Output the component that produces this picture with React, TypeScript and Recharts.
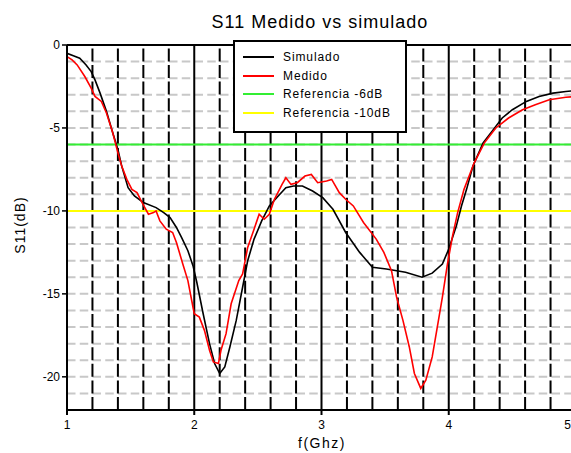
import React from "react";
import {
  LineChart,
  Line,
  XAxis,
  YAxis,
  ReferenceLine,
} from "recharts";

// S11 simulado (f en GHz, dB)
const simFreq = [
  1.0, 1.05, 1.1, 1.15, 1.19, 1.22, 1.26, 1.31, 1.36, 1.4, 1.43, 1.48, 1.53, 1.6, 1.7,
  1.76, 1.81, 1.86, 1.9, 1.95, 1.99, 2.02, 2.07, 2.12, 2.16, 2.2, 2.24, 2.28, 2.33, 2.38,
  2.42, 2.47, 2.53, 2.59, 2.66, 2.72, 2.78, 2.85, 2.93, 3.01, 3.09, 3.19, 3.3, 3.4, 3.51,
  3.66, 3.79, 3.87, 3.95, 4.0, 4.06, 4.1, 4.14, 4.19, 4.27, 4.35, 4.42, 4.5, 4.61, 4.71,
  4.82, 4.92, 5.0,
];
const simDb = [
  -0.5, -0.65, -0.8, -1.2, -1.6, -2.1, -2.9, -4.0, -5.3, -6.3, -7.3, -8.6, -9.1, -9.5, -9.8,
  -10.1, -10.4, -11.0, -11.6, -12.4, -13.3, -14.3, -16.2, -18.0, -19.2, -19.8, -19.4, -18.2, -16.6, -14.6,
  -13.0, -11.7, -10.6, -9.7, -9.1, -8.6, -8.5, -8.5, -8.8, -9.2, -9.9, -11.3, -12.5, -13.4, -13.5,
  -13.7, -14.0, -13.75, -13.2, -12.3, -10.9, -9.7, -8.7, -7.3, -5.9, -5.1, -4.4, -3.9, -3.4, -3.1,
  -2.9, -2.8, -2.75,
];

// S11 medido
const medFreq = [
  1.0, 1.04, 1.08, 1.14, 1.19, 1.22, 1.27, 1.31, 1.36, 1.4, 1.43, 1.47, 1.51, 1.55, 1.59,
  1.64, 1.68, 1.7, 1.73, 1.78, 1.83, 1.86, 1.91, 1.95, 1.98, 2.0, 2.04, 2.08, 2.12, 2.15,
  2.19, 2.21, 2.25, 2.29, 2.35, 2.38, 2.42, 2.47, 2.51, 2.55, 2.59, 2.63, 2.69, 2.72, 2.76,
  2.81, 2.87, 2.92, 2.97, 3.04, 3.08, 3.14, 3.19, 3.25, 3.33, 3.43, 3.49, 3.55, 3.59, 3.64,
  3.69, 3.73, 3.78, 3.82, 3.87, 3.91, 3.95, 3.99, 4.03, 4.07, 4.12, 4.2, 4.28, 4.37, 4.47,
  4.58, 4.68, 4.79, 4.92, 5.0,
];
const medDb = [
  -0.7, -0.9, -1.2, -1.9, -2.6, -3.1, -3.4, -4.1, -5.3, -6.5, -7.3, -8.1, -8.7, -8.9, -9.5,
  -10.2, -10.1, -10.0, -10.6, -11.1, -11.3, -11.9, -13.2, -14.2, -15.4, -16.2, -16.4, -17.2, -18.4, -19.1,
  -19.2, -18.4, -17.4, -15.6, -14.2, -13.8, -12.2, -11.1, -10.2, -10.5, -10.2, -9.3, -8.4, -8.0, -8.4,
  -8.3, -7.9, -7.8, -8.3, -8.2, -8.1, -8.9, -9.3, -9.7, -10.7, -11.7, -12.5, -13.6, -15.2, -16.6,
  -18.2, -19.8, -20.7, -20.2, -18.8, -17.0, -15.2, -13.2, -11.5, -10.1, -8.7, -7.1, -5.9, -5.0, -4.4,
  -3.9, -3.6, -3.3, -3.15, -3.1,
];

const xTicks = [1, 2, 3, 4, 5];
const yTicks = [0, -5, -10, -15, -20];
const minorX = [
  1.2, 1.4, 1.6, 1.8, 2.2, 2.4, 2.6, 2.8, 3.2, 3.4, 3.6, 3.8, 4.2, 4.4, 4.6, 4.8,
];
const gridY = [
  -1, -2, -3, -4, -5, -6, -7, -8, -9, -10, -11, -12, -13, -14, -15, -16, -17, -18, -19, -20, -21,
];
const refLevels = [
  { name: "Referencia -6dB", value: -6, color: "#33ee33" },
  { name: "Referencia -10dB", value: -10, color: "#ffff00" },
];

const simData = simFreq.map((f, i) => ({ f, db: simDb[i] }));
const medData = medFreq.map((f, i) => ({ f, db: medDb[i] }));

const legendItems = [
  { name: "Simulado", color: "#000000" },
  { name: "Medido", color: "#ff0000" },
  ...refLevels.map((r) => ({ name: r.name, color: r.color })),
];

const font = "'Liberation Sans', Arial, sans-serif";

// the last label sits at the cut-off right edge, keep it inside
function XTick(props: any) {
  const { x, y, payload } = props;
  const last = payload.value === xTicks[xTicks.length - 1];
  return (
    <text
      x={last ? 571 : x}
      y={y + 12}
      textAnchor={last ? "end" : "middle"}
      fontSize={12}
      fontFamily={font}
      fill="#000"
    >
      {payload.value}
    </text>
  );
}

export default function App() {
  return (
    <div
      style={{
        position: "absolute",
        left: 0,
        top: 0,
        width: 571,
        height: 453,
        overflow: "hidden",
        background: "#fff",
        fontFamily: font,
      }}
    >
      <LineChart
        width={620}
        height={453}
        margin={{ top: 45, right: 44, bottom: 13, left: 27 }}
      >
        <XAxis
          type="number"
          dataKey="f"
          domain={[1, 5]}
          ticks={xTicks}
          allowDataOverflow
          height={30}
          axisLine={{ stroke: "#000", strokeWidth: 2 }}
          tickLine={{ stroke: "#000", strokeWidth: 2 }}
          tickSize={5}
          tick={<XTick />}
        />
        <YAxis
          type="number"
          dataKey="db"
          domain={[-22, 0]}
          ticks={yTicks}
          allowDataOverflow
          width={40}
          axisLine={{ stroke: "#000", strokeWidth: 2 }}
          tickLine={{ stroke: "#000", strokeWidth: 1.5 }}
          tickSize={5}
          tick={{ fill: "#000", fontSize: 12, fontFamily: font }}
        />
        {gridY.map((v) => (
          <ReferenceLine
            key={"gy" + v}
            y={v}
            stroke="#c8c8c8"
            strokeWidth={2}
            strokeDasharray="8.5 4.25"
          />
        ))}
        {minorX.map((v) => (
          <ReferenceLine
            key={"mx" + v}
            x={v}
            stroke="#000"
            strokeWidth={2}
            strokeDasharray="13 3.6"
          />
        ))}
        {xTicks.slice(1).map((v) => (
          <ReferenceLine key={"jx" + v} x={v} stroke="#000" strokeWidth={2} />
        ))}
        <ReferenceLine y={0} stroke="#000" strokeWidth={2} />
        {refLevels.map((r) => (
          <ReferenceLine key={r.name} y={r.value} stroke={r.color} strokeWidth={2} />
        ))}
        <Line
          data={simData}
          dataKey="db"
          type="linear"
          stroke="#000000"
          strokeWidth={1.6}
          dot={false}
          isAnimationActive={false}
        />
        <Line
          data={medData}
          dataKey="db"
          type="linear"
          stroke="#ff0000"
          strokeWidth={1.6}
          dot={false}
          isAnimationActive={false}
        />
      </LineChart>

      <div
        style={{
          position: "absolute",
          left: 0,
          width: 640,
          top: 12,
          textAlign: "center",
          fontSize: 18,
          letterSpacing: 1,
          color: "#000",
        }}
      >
        S11 Medido vs simulado
      </div>
      <div
        style={{
          position: "absolute",
          left: 20,
          top: 225,
          transform: "translate(-50%, -50%) rotate(-90deg)",
          fontSize: 14,
          letterSpacing: 1,
          whiteSpace: "nowrap",
        }}
      >
        S11(dB)
      </div>
      <div
        style={{
          position: "absolute",
          left: 322,
          top: 443,
          transform: "translate(-50%, -50%)",
          fontSize: 14,
          letterSpacing: 1.5,
          whiteSpace: "nowrap",
        }}
      >
        f(Ghz)
      </div>

      <div
        style={{
          position: "absolute",
          left: 233,
          top: 40,
          width: 170,
          height: 89,
          border: "2px solid #000",
          background: "#fff",
        }}
      >
        {legendItems.map((it, i) => (
          <div
            key={it.name}
            style={{
              position: "absolute",
              left: 8,
              top: 7 + i * 18.5,
              height: 16,
              display: "flex",
              alignItems: "center",
              fontSize: 12,
              letterSpacing: 0.9,
              whiteSpace: "nowrap",
            }}
          >
            <span
              style={{
                display: "inline-block",
                width: 31,
                height: 2,
                background: it.color,
                marginRight: 9,
              }}
            />
            {it.name}
          </div>
        ))}
      </div>
    </div>
  );
}
